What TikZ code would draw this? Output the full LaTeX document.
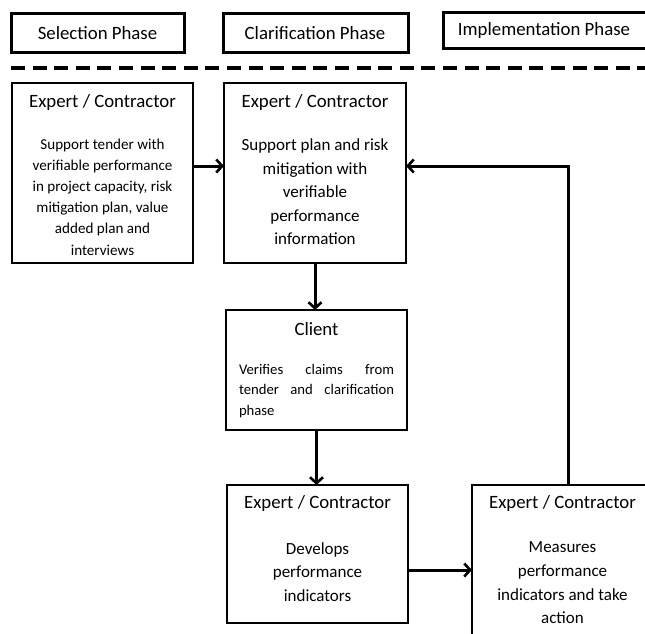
\documentclass[tikz,border=0pt]{standalone}
\usepackage{fontspec}
\setmainfont{Carlito}
\usetikzlibrary{arrows.meta}
\tikzset{
  phasebox/.style={draw, line width=3pt, inner sep=0pt, outer sep=0pt},
  stagebox/.style={draw, line width=1.4pt, inner sep=0pt, outer sep=0pt},
  headtext/.style={inner sep=0pt, font=\fontsize{18.8}{22}\selectfont},
  bodytext/.style={inner sep=0pt, align=center},
  flow/.style={line width=3pt, -{Straight Barb[length=6pt, width=13pt, line width=2.6pt]}},
  divider/.style={line width=4pt, dash pattern=on 14pt off 7.6pt}
}
% one line of text spread evenly over a fixed width
\newcommand{\spreadline}[1]{\makebox[155pt][s]{#1}}
\begin{document}
\begin{tikzpicture}[x=1pt, y=-1pt]
\useasboundingbox (0,0) rectangle (645,633);
\clip (0,0) rectangle (645,633);

% phase headers
\node[phasebox, minimum width=173, minimum height=39] (sel) at (97.5,32.5) {};
\node[headtext] (selt) at (97.5,33) {Selection Phase};
\node[phasebox, minimum width=185, minimum height=39] (cla) at (315.5,32.5) {};
\node[headtext] (clat) at (315,33) {Clarification Phase};
\node[phasebox, minimum width=220, minimum height=36] (imp) at (553,30) {};
\node[headtext] (impt) at (544,30.5) {Implementation Phase};

% phase divider
\coordinate (dl) at (11,68);
\coordinate (dr) at (650,68);
\draw[divider] (dl) -- (dr);

% selection stage
\node[stagebox, minimum width=181, minimum height=180] (b1) at (102.5,173) {};
\node[headtext] (b1t) at (102.5,102) {Expert / Contractor};
\node[bodytext, font=\fontsize{15.1}{21.2}\selectfont] (b1b) at (102.5,197)
  {Support tender with\\verifiable performance\\in project capacity, risk\\mitigation plan, value\\added plan and\\interviews};

% clarification stage
\node[stagebox, minimum width=182, minimum height=180] (b2) at (315,173) {};
\node[headtext] (b2t) at (315,102) {Expert / Contractor};
\node[bodytext, font=\fontsize{17}{23.5}\selectfont] (b2b) at (315,192)
  {Support plan and risk\\mitigation with\\verifiable\\performance\\information};

\node[stagebox, minimum width=181, minimum height=120] (b3) at (316.5,370) {};
\node[headtext] (b3t) at (316.5,329.5) {Client};
\node[inner sep=0pt, align=left, font=\fontsize{14.7}{20.5}\selectfont] (b3b) at (316.5,391)
  {\spreadline{Verifies\hfill claims\hfill from}\\
   \spreadline{tender\hfill and\hfill clarification}\\
   \makebox[155pt][l]{phase}};

% implementation stage
\node[stagebox, minimum width=181, minimum height=138] (b4) at (317.5,554) {};
\node[headtext] (b4t) at (317.5,503) {Expert / Contractor};
\node[bodytext, font=\fontsize{17}{23.5}\selectfont] (b4b) at (317.5,572)
  {Develops\\performance\\indicators};

\node[stagebox, minimum width=182, minimum height=180] (b5) at (563,575) {};
\node[headtext] (b5t) at (562.5,503) {Expert / Contractor};
\node[bodytext, font=\fontsize{17}{23.7}\selectfont] (b5b) at (562.5,583)
  {Measures\\performance\\indicators and take\\action};

% connectors
\draw[flow] ([yshift=7pt]b1.east) -- ([yshift=7pt]b2.west);
\draw[flow] (b2.south) -- (b2.south |- b3.north);
\draw[flow] (b3.south) -- (b3.south |- b4.north);
\draw[flow] ([yshift=-16pt]b4.east) -- ([yshift=-16pt]b4.east -| b5.west);
\draw[flow] ([xshift=5pt]b5.north) |- ([yshift=7pt]b2.east);
\end{tikzpicture}
\end{document}
